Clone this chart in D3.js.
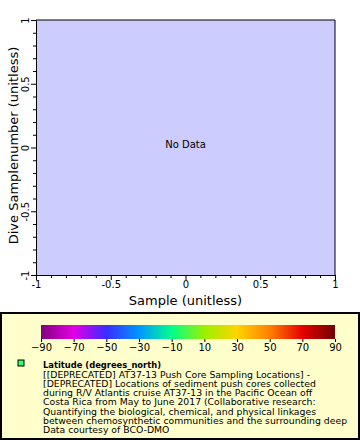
<!DOCTYPE html>
<html><head><meta charset="utf-8">
<script src="https://cdn.jsdelivr.net/npm/d3@7"></script>
<style>body{margin:0;background:#fff}svg{display:block}text{font-family:"DejaVu Sans",sans-serif}</style>
</head><body><svg id="c" width="360" height="440"></svg>
<script>
const xDomain = [-1, 1];
const yDomain = [-1, 1];
const majorTicks = [-1, -0.5, 0, 0.5, 1];
const colorTicks = [-90, -70, -50, -30, -10, 10, 30, 50, 70, 90];
const colorStops = ["#800080", "#e400e4", "#3a2cff", "#0096ff", "#00ff8c", "#9cf000", "#ffd400", "#ff8000", "#e60000", "#700000"];
const legendTitle = "Latitude (degrees_north)";
const legendLines = [
  "[[DEPRECATED] AT37-13 Push Core Sampling Locations] -",
  "[DEPRECATED] Locations of sediment push cores collected",
  "during R/V Atlantis cruise AT37-13 in the Pacific Ocean off",
  "Costa Rica from May to June 2017 (Collaborative research:",
  "Quantifying the biological, chemical, and physical linkages",
  "between chemosynthetic communities and the surrounding deep",
  "Data courtesy of BCO-DMO"
];

const svg = d3.select("#c");
const L = 36, R = 335, T = 20, B = 275;
const x = d3.scaleLinear().domain(xDomain).range([L, R]);
const y = d3.scaleLinear().domain(yDomain).range([B, T]);

svg.append("rect").attr("x", L).attr("y", T).attr("width", R - L).attr("height", B - T).attr("fill", "#ccccff");

const minor = d3.range(-10, 11).map(d => d / 10).filter(d => !majorTicks.some(m => Math.abs(m - d) < 1e-9));
const fmt = d => d === 0 ? "0" : String(d);

// bottom axis
const gx = svg.append("g").attr("transform", `translate(0,${B})`);
gx.call(d3.axisBottom(x).tickValues(majorTicks).tickFormat(fmt).tickSize(5).tickSizeOuter(0));
gx.append("g").call(d3.axisBottom(x).tickValues(minor).tickFormat("").tickSize(3).tickSizeOuter(0)).select(".domain").remove();
gx.selectAll("text").attr("font-size", 10).attr("fill", "#000").attr("dy", "0.9em").attr("y", 4);

// left axis
const gy = svg.append("g").attr("transform", `translate(${L},0)`);
gy.call(d3.axisLeft(y).tickValues(majorTicks).tickFormat(fmt).tickSize(5).tickSizeOuter(0));
gy.append("g").call(d3.axisLeft(y).tickValues(minor).tickFormat("").tickSize(3).tickSizeOuter(0)).select(".domain").remove();
gy.selectAll(".tick text").each(function(d) {
  const t = d3.select(this);
  t.attr("x", null).attr("dy", null).attr("font-size", 10).attr("fill", "#000")
   .attr("text-anchor", "middle")
   .attr("transform", `translate(-7,0) rotate(-90)`);
});
svg.selectAll(".domain, .tick line").attr("stroke", "#000");

// plot frame top/right
svg.append("path").attr("d", `M${L},${T}H${R}V${B}`).attr("fill", "none").attr("stroke", "#000");

svg.append("text").attr("x", (L + R) / 2).attr("y", 148).attr("text-anchor", "middle").attr("font-size", 10).text("No Data");

svg.append("text").attr("x", (L + R) / 2).attr("y", 305).attr("text-anchor", "middle").attr("font-size", 13).text("Sample (unitless)");
svg.append("text").attr("transform", `translate(18,${(T + B) / 2 - 2}) rotate(-90)`).attr("text-anchor", "middle").attr("font-size", 13).text("Dive Samplenumber (unitless)");

// legend
svg.append("rect").attr("x", 1).attr("y", 313).attr("width", 358).attr("height", 126).attr("fill", "#ffffcc").attr("stroke", "#000").attr("stroke-width", 2);

const cx = d3.scaleLinear().domain([-90, 90]).range([41, 335]);
const defs = svg.append("defs");
const grad = defs.append("linearGradient").attr("id", "g");
colorStops.forEach((c, i) => grad.append("stop").attr("offset", (i / (colorStops.length - 1))).attr("stop-color", c));
svg.append("rect").attr("x", cx(-90)).attr("y", 325).attr("width", cx(90) - cx(-90)).attr("height", 14).attr("fill", "url(#g)");
const gc = svg.append("g").attr("transform", "translate(0,339)");
gc.call(d3.axisBottom(cx).tickValues(colorTicks).tickSize(3).tickSizeOuter(0)).select(".domain").remove();
gc.selectAll("text").attr("font-size", 10).attr("fill", "#000").attr("y", 5);
gc.selectAll("line").attr("stroke", "#000");

svg.append("rect").attr("x", 18).attr("y", 360).attr("width", 6).attr("height", 6).attr("fill", "#33ff66").attr("stroke", "#000");

const lines = svg.append("g");
legendLines.forEach((s, i) => lines.append("text").attr("x", 43).attr("y", 377.5 + i * 9.25).attr("font-size", 9.3).text(s));
// condense uniformly so the longest line fits like the reference (~313px)
let maxW = 0;
lines.selectAll("text").each(function() { maxW = Math.max(maxW, this.getComputedTextLength()); });
const k = Math.min(1, 313 / maxW);
lines.selectAll("text").each(function() {
  const w = this.getComputedTextLength();
  if (k < 1) d3.select(this).attr("textLength", w * k).attr("lengthAdjust", "spacingAndGlyphs");
});
// title ends just past "[[DEPRECATED] AT37-13" of the first line
const first = lines.select("text").node();
const titleW = first.getSubStringLength(0, 21) * k + 4;
const tt = svg.append("text").attr("x", 43).attr("y", 368).attr("font-size", 9.5).attr("font-weight", "bold").text(legendTitle);
if (tt.node().getComputedTextLength() > titleW) tt.attr("textLength", titleW).attr("lengthAdjust", "spacingAndGlyphs");
</script></body></html>
